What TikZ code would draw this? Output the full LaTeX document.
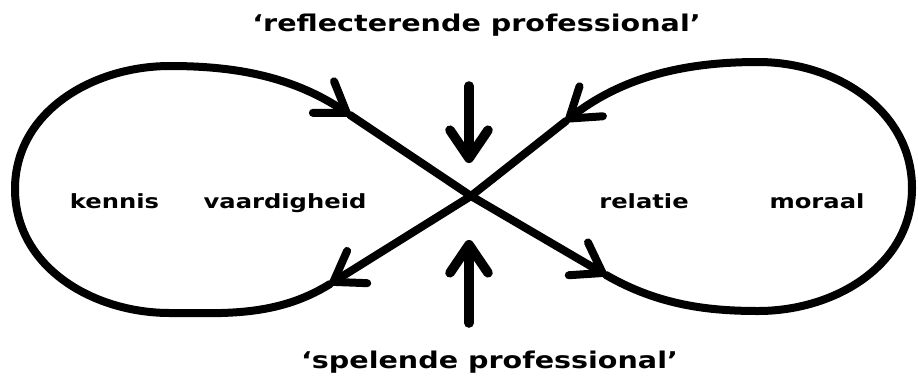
\documentclass[tikz,border=0pt]{standalone}
\usepackage{fontspec}
\usepackage{tikz}
\usetikzlibrary{arrows.meta}
\newfontfamily\lblfont{DejaVu Sans}[FakeStretch=1.24]

\begin{document}
\begin{tikzpicture}[
        x=0.25mm, y=-0.25mm,
        >={Straight Barb[length=7mm, width=9.5mm, round]},
        flow/.style={line width=2mm, line cap=round, line join=round},
        push/.style={line width=2.4mm, line cap=round, ->},
        lbl/.style={anchor=base, inner sep=0pt, font=\lblfont\bfseries\fontsize{13.9pt}{16pt}\selectfont},
        ttl/.style={anchor=base, inner sep=0pt, font=\lblfont\bfseries\fontsize{16.4pt}{19pt}\selectfont}
    ]
        \useasboundingbox (0,0) rectangle (918,387);

        \coordinate (c) at (471,196);
        \coordinate (a) at (350,115);
        \coordinate (b) at (330,284);
        \coordinate (d) at (566,121);
        \coordinate (e) at (606,275);
        \coordinate (lt) at (170,66);
        \coordinate (ll) at (15,189);
        \coordinate (lb) at (170,313);
        \coordinate (rt) at (758,62);
        \coordinate (rr) at (912,188);
        \coordinate (rb) at (758,311);

        \draw[flow, ->] (c) -- (e);
        \draw[flow, ->] (e) to[out=330, in=180, in looseness=0.8] (rb) to[out=0, in=270] (rr)
            to[out=90, in=0] (rt) to[out=180, in=38, out looseness=0.8] (d);
        \draw[flow] (d) -- (c);
        \draw[flow, ->] (c) -- (b);
        \draw[flow, ->] (b) to[out=212, in=0, in looseness=0.8] (lb) to[out=180, in=270] (ll)
            to[out=90, in=180] (lt) to[out=0, in=146, out looseness=0.8] (a);
        \draw[flow] (a) -- (c);

        \coordinate (top) at (469,86);
        \coordinate (toptip) at (469,163);
        \coordinate (bot) at (469,323);
        \coordinate (bottip) at (469,240);
        \draw[push] (top) -- (toptip);
        \draw[push] (bot) -- (bottip);

        \node[ttl] (refl) at (476.5,31.5) {‘reflecterende professional’};
        \node[ttl] (spel) at (489.5,368) {‘spelende professional’};
        \node[lbl] (kennis) at (114.5,208) {kennis};
        \node[lbl] (vaard) at (285,208) {vaardigheid};
        \node[lbl] (relatie) at (644,208) {relatie};
        \node[lbl] (moraal) at (817,208) {moraal};
\end{tikzpicture}
\end{document}
